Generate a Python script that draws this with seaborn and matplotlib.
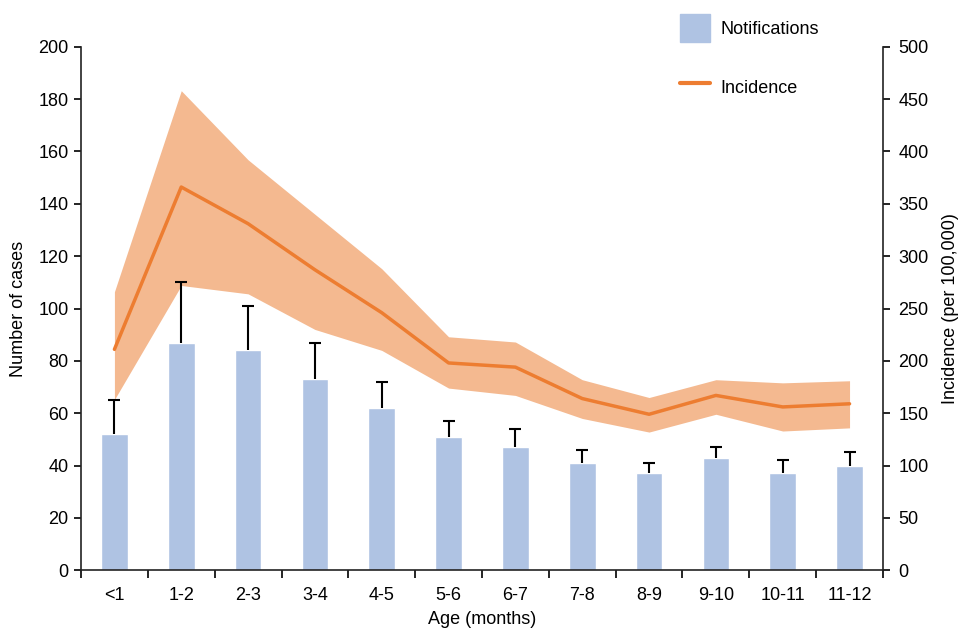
import seaborn as sns
import matplotlib.pyplot as plt
import matplotlib.patches as mpatches
import matplotlib.lines as mlines
import numpy as np
import pandas as pd

# age groups (months)
ages = ['<1', '1-2', '2-3', '3-4', '4-5', '5-6', '6-7', '7-8', '8-9', '9-10', '10-11', '11-12']

# notifications with upper error bar end
notifications = [52, 87, 84, 73, 62, 51, 47, 41, 37, 43, 37, 40]
notif_upper = [65, 110, 101, 87, 72, 57, 54, 46, 41, 47, 42, 45]

# incidence per 100,000 with band
incidence = [211, 366, 331, 287, 246, 198, 194, 164, 149, 167, 156, 159]
inc_low = [163, 272, 264, 230, 210, 174, 167, 145, 132, 149, 133, 136]
inc_high = [266, 458, 392, 340, 288, 223, 218, 182, 165, 182, 179, 181]

bar_color = '#AFC3E3'
line_color = '#ED7D31'
band_color = '#F4B990'
fs = 13

sns.set_style("ticks")
plt.rcParams['font.family'] = ['Liberation Sans', 'DejaVu Sans']
plt.rcParams['text.color'] = 'black'
plt.rcParams['axes.labelcolor'] = 'black'
plt.rcParams['xtick.color'] = 'black'
plt.rcParams['ytick.color'] = 'black'

fig = plt.figure(figsize=(9.61, 6.28), dpi=100)
ax = fig.add_axes([0.0843, 0.0919, 0.8345, 0.8337])
ax2 = ax.twinx()

data = pd.DataFrame({'age': ages, 'n': notifications})
x = np.arange(len(ages))

# incidence band and line on right axis
ax2.fill_between(x, inc_low, inc_high, color=band_color, linewidth=0)
sns.lineplot(x=x, y=incidence, ax=ax2, color=line_color, linewidth=2.5)
ax2.set_ylim(0, 500)
ax2.set_yticks(range(0, 501, 50))

# bars on left axis, drawn on top
ax.set_zorder(2)
ax.patch.set_visible(False)
sns.barplot(x='age', y='n', data=data, ax=ax, color=bar_color, width=0.4,
            saturation=1, errorbar=None)
err = np.array(notif_upper) - np.array(notifications)
eb = ax.errorbar(x, notifications, yerr=[np.zeros(len(x)), err], fmt='none',
                 ecolor='black', elinewidth=1.5, capsize=4, capthick=1.5)
# upper cap only
eb[1][0].set_visible(False)

ax.set_xlim(-0.5, len(ages) - 0.5)
ax.set_ylim(0, 200)
ax.set_yticks(range(0, 201, 20))
ax.set_xticks(np.arange(-0.5, len(ages), 1), minor=False)
ax.set_xticklabels([])
ax.set_xticks(x, minor=True)
ax.set_xticklabels(ages, minor=True)
ax.tick_params(axis='x', which='minor', length=0, pad=12, labelsize=fs)
ax.tick_params(axis='x', which='major', length=6, width=1.2)
ax.tick_params(axis='y', length=5, width=1.2, labelsize=fs, pad=4)
ax2.tick_params(axis='y', length=5, width=1.2, labelsize=fs, pad=6)

for a in (ax, ax2):
    a.spines['top'].set_visible(False)
    for s in ('left', 'right', 'bottom'):
        a.spines[s].set_linewidth(1.2)
        a.spines[s].set_color('#222222')
ax.spines['right'].set_visible(False)
ax2.spines['left'].set_visible(False)
ax2.spines['bottom'].set_visible(False)

ax.set_xlabel('Age (months)', fontsize=fs, labelpad=5)
ax.set_ylabel('Number of cases', fontsize=fs, labelpad=8)
ax2.set_ylabel('Incidence (per 100,000)', fontsize=fs, labelpad=10)

# legend
h1 = mpatches.Patch(color=bar_color, label='Notifications')
h2 = mlines.Line2D([], [], color=line_color, linewidth=3, label='Incidence')
fig.legend(handles=[h1, h2], loc='upper left', bbox_to_anchor=(680 / 961, 1 - 14 / 628),
           frameon=False, fontsize=fs, handlelength=1.67, handleheight=2.0,
           labelspacing=1.72, handletextpad=0.55, borderaxespad=0, borderpad=0)

plt.savefig('out.png', dpi=100)
